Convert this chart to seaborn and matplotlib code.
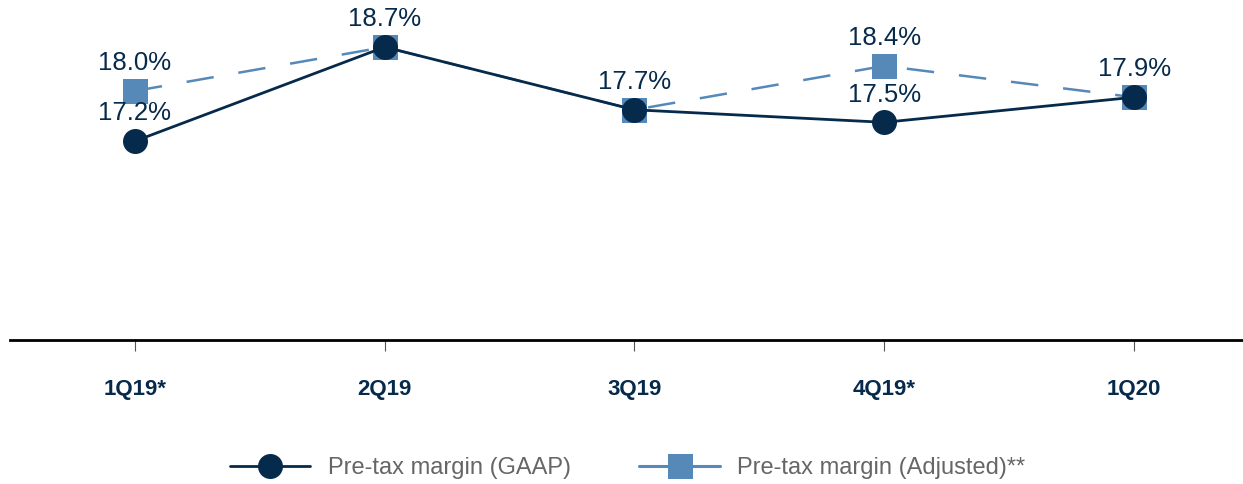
import matplotlib
matplotlib.use("Agg")
import matplotlib.pyplot as plt
import seaborn as sns
import pandas as pd

quarters = ["1Q19*", "2Q19", "3Q19", "4Q19*", "1Q20"]
gaap = [17.2, 18.7, 17.7, 17.5, 17.9]
adjusted = [18.0, 18.7, 17.7, 18.4, 17.9]
series_names = ["Pre-tax margin (GAAP)", "Pre-tax margin (Adjusted)**"]

navy = "#062A4B"
light_blue = "#5689B8"

sns.set_style("white")
plt.rcParams['font.family'] = ['Liberation Sans', 'DejaVu Sans']

df = pd.DataFrame({"Quarter": quarters, "GAAP": gaap, "Adjusted": adjusted})

fig = plt.figure(figsize=(12.43, 4.84), dpi=100)
ax = fig.add_axes([10 / 1243, 1 - 340 / 484, 1 - 10 / 1243, 340 / 484])

# adjusted first so the GAAP circles sit on top
sns.lineplot(data=df, x="Quarter", y="Adjusted", ax=ax, color=light_blue, lw=1.8,
             marker="s", markersize=18, markeredgewidth=0, dashes=False,
             label=series_names[1])
ax.lines[-1].set_dashes((11, 10))
sns.lineplot(data=df, x="Quarter", y="GAAP", ax=ax, color=navy, lw=2,
             marker="o", markersize=18, markeredgewidth=0,
             label=series_names[0])

for i, q in enumerate(quarters):
    ax.annotate(f"{gaap[i]:.1f}%", (q, gaap[i]), xytext=(0, 20), textcoords="offset points",
                ha="center", va="center", fontsize=18.5, color=navy)
    if adjusted[i] != gaap[i]:
        ax.annotate(f"{adjusted[i]:.1f}%", (q, adjusted[i]), xytext=(0, 20), textcoords="offset points",
                    ha="center", va="center", fontsize=18.5, color=navy)

ax.set_xlim(-0.5, 4.436)
ax.set_ylim(14.03, 19.45)
ax.set_xlabel("")
ax.set_ylabel("")
ax.set_yticks([])
for side in ["top", "right", "left"]:
    ax.spines[side].set_visible(False)
ax.spines["bottom"].set_color("black")
ax.spines["bottom"].set_linewidth(2)
ax.tick_params(axis="x", bottom=True, length=8, width=0.8, color="#555555", pad=20)
for lbl in ax.get_xticklabels():
    lbl.set_fontweight("bold")
    lbl.set_fontsize(16)
    lbl.set_color(navy)

handles, labels = ax.get_legend_handles_labels()
ax.get_legend().remove()
order = [labels.index(n) for n in series_names]
leg = fig.legend([handles[k] for k in order], [labels[k] for k in order],
                 loc="center", bbox_to_anchor=(0.505, 1 - 468 / 484), ncol=2, frameon=False,
                 fontsize=17, handlelength=3.4, handletextpad=0.75, columnspacing=2.9)
for t in leg.get_texts():
    t.set_color("#666666")
leg.legend_handles[1].set_dashes((None, None))
leg.legend_handles[1].set_linestyle("-")
leg.legend_handles[1].set_linewidth(2.2)

fig.savefig("out.png", dpi=100)
